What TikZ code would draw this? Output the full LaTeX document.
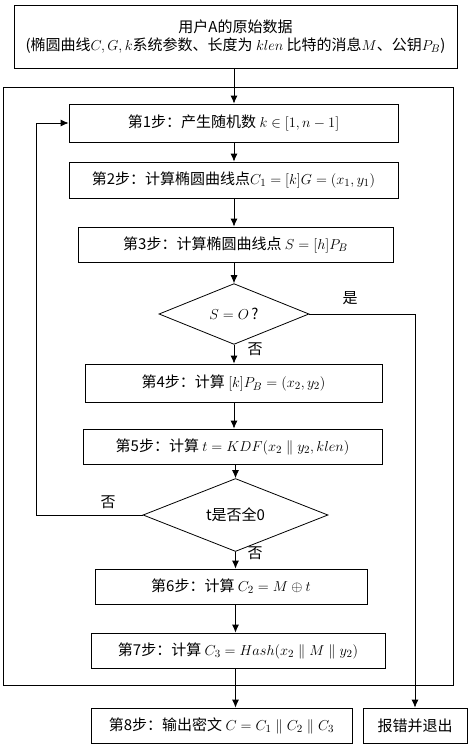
\documentclass[tikz,border=0pt]{standalone}
\usepackage{fontspec}
\setmainfont{Noto Sans CJK SC}
\usepackage{tikz}
\usetikzlibrary{arrows.meta}
\usetikzlibrary{shapes.geometric}
\tikzset{>={Latex[length=8pt,width=7pt]}}
\def\linethickness{0.8pt}
\tikzset{
    stepbox/.style={draw, line width=\linethickness, inner sep=0pt, font=\fontsize{15}{18}\selectfont},
    testbox/.style={draw, diamond, line width=\linethickness, inner sep=0pt, font=\fontsize{15}{18}\selectfont},
    answer/.style={font=\fontsize{15}{18}\selectfont}
}

\begin{document}
\begin{tikzpicture}[x=1pt, y=-1pt, line width=\linethickness]
    \useasboundingbox (0, 0) rectangle (474, 750);
    % input data and the loop frame
    \node[stepbox, minimum width=443pt, minimum height=63pt, align=center] at (235.5, 36.5) (top)
        {用户A的原始数据\\(椭圆曲线$C,G,k$系统参数、长度为 $klen$ 比特的消息$M$、公钥$P_B$)};
    \draw (3, 87) rectangle (453, 685);
    \coordinate (ax) at (234, 0);
    \coordinate (lp) at (36, 0);

    \node[stepbox, minimum width=329pt, minimum height=38pt] at (233.5, 123) (s1) {第1步：产生随机数 $k\in[1,n-1]$};
    \node[stepbox, minimum width=329pt, minimum height=36pt] at (233.5, 180) (s2) {第2步：计算椭圆曲线点$C_1=[k]G=(x_1,y_1)$};
    \node[stepbox, minimum width=315pt, minimum height=35pt] at (235.5, 244.5) (s3) {第3步：计算椭圆曲线点 $S=[h]P_B$};
    \node[testbox, minimum width=150pt, minimum height=47pt] at (234, 314) (d1) {$S=O\,$?};
    \node[stepbox, minimum width=297pt, minimum height=38pt] at (233.5, 383) (s4) {第4步：计算 $[k]P_B=(x_2,y_2)$};
    \node[stepbox, minimum width=299pt, minimum height=35pt] at (232.5, 446.5) (s5) {第5步：计算 $t=KDF(x_2\parallel y_2,klen)$};
    \node[testbox, minimum width=185pt, minimum height=48pt] at (235.5, 515) (d2) {t是否全0};
    \node[stepbox, minimum width=272pt, minimum height=35pt] at (231, 586.5) (s6) {第6步：计算 $C_2=M\oplus t$};
    \node[stepbox, minimum width=294pt, minimum height=35pt] at (238, 650.5) (s7) {第7步：计算 $C_3=Hash(x_2\parallel M\parallel y_2)$};
    \node[stepbox, minimum width=261pt, minimum height=35pt] at (221.5, 725.5) (s8) {第8步：输出密文 $C=C_1\parallel C_2\parallel C_3$};
    \node[stepbox, minimum width=104pt, minimum height=35pt] at (415, 725.5) (err) {报错并退出};

    \draw[->] (top.south -| ax) -- (s1.north -| ax);
    \draw[->] (s1.south -| ax) -- (s2.north -| ax);
    \draw[->] (s2.south -| ax) -- (s3.north -| ax);
    \draw[->] (s3.south -| ax) -- (d1.north);
    \draw[->] (d1.south) -- (s4.north -| d1.south);
    \draw[->] (s4.south -| ax) -- (s5.north -| ax);
    \draw[->] (s5.south -| d2.north) -- (d2.north);
    \draw[->] (d2.south) -- (s6.north -| d2.south);
    \draw[->] (s6.south -| d2.south) -- (s7.north -| d2.south);
    \draw[->] (s7.south -| d2.south) -- (s8.north -| d2.south);
    \draw[->] (d1.east) -| (err.north);
    \draw[->] (d2.west) -- (lp |- d2.west) |- (s1.west);

    \node[answer] at (350, 298) (yes1) {是};
    \node[answer] at (255, 349) (no1) {否};
    \node[answer] at (108, 502) (no2) {否};
    \node[answer] at (255, 553) (no3) {否};
\end{tikzpicture}
\end{document}
